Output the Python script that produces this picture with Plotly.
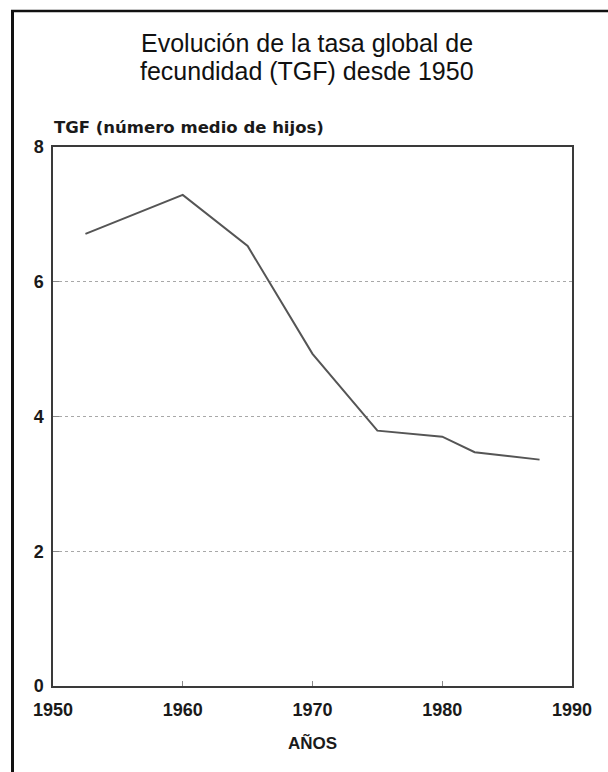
import plotly.graph_objects as go

# Data
years = [1952.5, 1960, 1965, 1970, 1975, 1980, 1982.5, 1987.5]
tgf = [6.71, 7.29, 6.53, 4.93, 3.79, 3.70, 3.47, 3.36]

x_ticks = [1950, 1960, 1970, 1980, 1990]
y_ticks = [0, 2, 4, 6, 8]

title_lines = ["Evolución de la tasa global de", "fecundidad (TGF) desde 1950"]
y_title = "TGF (número medio de hijos)"
x_title = "AÑOS"

W, H = 608, 772
L, R, T, B = 53, 36, 147, 86
pw, ph = W - L - R, H - T - B


def px(xp):
    return (xp - L) / pw


def py(yp):
    return (H - B - yp) / ph


fig = go.Figure()
fig.add_trace(go.Scatter(
    x=years, y=tgf, mode="lines",
    line=dict(color="#555555", width=2),
    showlegend=False, hoverinfo="skip",
))

axis_common = dict(
    showline=True, linecolor="#3a3a3a", linewidth=1.5, mirror=True,
    zeroline=False,
    ticks="inside", tickcolor="#888888", tickwidth=1,
    tickfont=dict(family="Liberation Sans, Arial, sans-serif", size=18, color="#1a1a1a", weight="bold"),
)

fig.update_xaxes(
    range=[1950, 1990], tickvals=x_ticks, ticktext=[str(v) for v in x_ticks],
    showgrid=False, ticklen=5, ticklabelstandoff=7,
    **axis_common,
)
fig.update_yaxes(
    range=[0, 8], tickvals=y_ticks, ticktext=[str(v) for v in y_ticks],
    showgrid=True, gridcolor="#a8a8a8", gridwidth=1, griddash="dot",
    ticklen=6, ticklabelstandoff=4,
    **axis_common,
)

annotations = [
    dict(text=title_lines[0], x=px(307), y=py(43), xref="paper", yref="paper",
         xanchor="center", yanchor="middle", showarrow=False,
         font=dict(family="Liberation Sans, Arial, sans-serif", size=25, color="#111111")),
    dict(text=title_lines[1], x=px(307), y=py(71), xref="paper", yref="paper",
         xanchor="center", yanchor="middle", showarrow=False,
         font=dict(family="Liberation Sans, Arial, sans-serif", size=25, color="#111111")),
    dict(text=y_title, x=px(52), y=py(128), xref="paper", yref="paper",
         xanchor="left", yanchor="middle", showarrow=False,
         font=dict(family="DejaVu Sans, sans-serif", size=16.5, color="#1a1a1a", weight="bold")),
    dict(text=x_title, x=px(312), y=py(743), xref="paper", yref="paper",
         xanchor="center", yanchor="middle", showarrow=False,
         font=dict(family="Liberation Sans, Arial, sans-serif", size=17, color="#1a1a1a", weight="bold")),
]

shapes = [
    # page frame: left thick line and top line
    dict(type="line", xref="paper", yref="paper",
         x0=px(12.5), x1=px(12.5), y0=py(10), y1=py(775),
         line=dict(color="#111111", width=3)),
    dict(type="line", xref="paper", yref="paper",
         x0=px(11), x1=px(612), y0=py(11), y1=py(11),
         line=dict(color="#111111", width=2.5)),
]

fig.update_layout(
    width=W, height=H,
    margin=dict(l=L, r=R, t=T, b=B),
    paper_bgcolor="white", plot_bgcolor="white",
    annotations=annotations, shapes=shapes,
    showlegend=False,
)

fig.write_html(
    "out.html",
    config={"displayModeBar": False},
    post_script="document.body.style.margin='0';document.body.style.overflow='hidden';",
)
